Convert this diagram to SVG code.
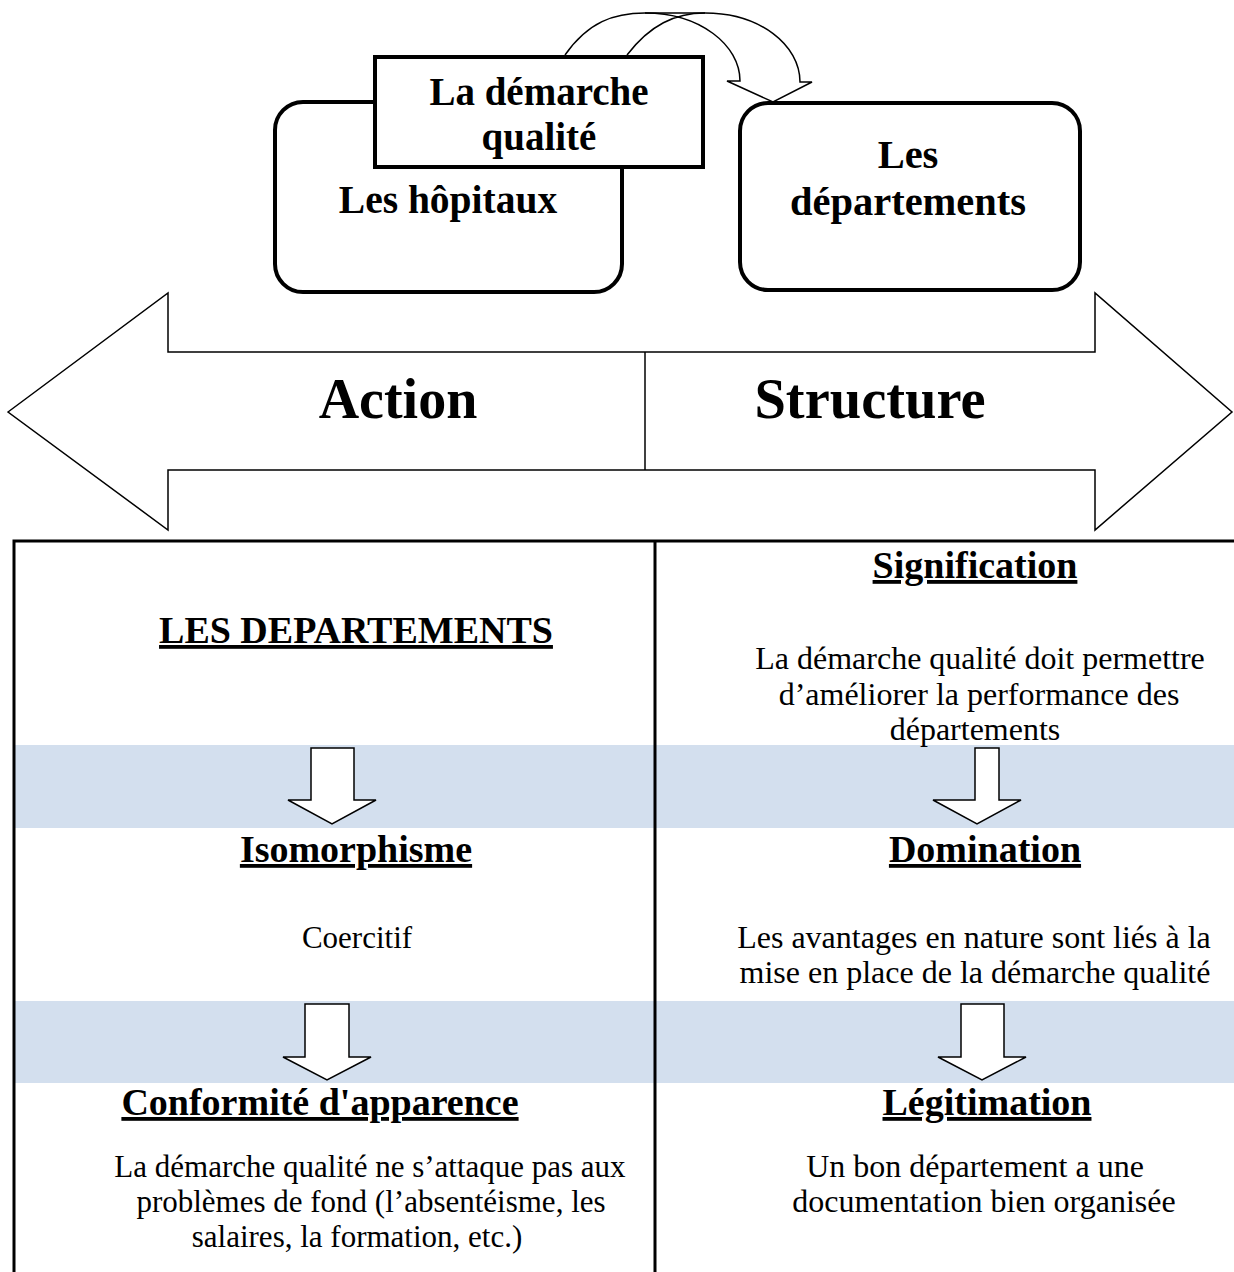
<svg xmlns="http://www.w3.org/2000/svg" width="1234" height="1272" viewBox="0 0 1234 1272">
<style>
.box{fill:#fff;stroke:#000;stroke-width:4}
.thin{fill:#fff;stroke:#000;stroke-width:1.5;stroke-linejoin:miter}
.hd{font-family:"Liberation Serif",serif;font-weight:bold;fill:#000;text-anchor:middle}
.tb{font-family:"Liberation Serif",serif;font-size:38px;font-weight:bold;fill:#000;text-anchor:middle;text-decoration:underline}
.tx{font-family:"Liberation Serif",serif;font-size:31px;fill:#000;text-anchor:middle}
.tr{font-family:"Liberation Serif",serif;font-size:32px;fill:#000;text-anchor:middle}
.band{fill:#D3DFEE}
.grid{stroke:#000;stroke-width:3;fill:none}
</style>
<rect width="1234" height="1272" fill="#fff"/>

<g id="connectors">
  <path class="thin" d="M565,55 C588,22 614,13 645,13 C700,13 740,45 740,81 L727,81 L773,102 L812,82 L800,82 C800,45 760,13 705,13 C675,13 650,25 627,55"/>
  <path class="thin" fill="none" d="M645,13 L705,13"/>
</g>

<g id="node-hopitaux">
  <rect class="box" x="275" y="102" width="347" height="190" rx="28"/>
  <text class="hd" x="448" y="213" font-size="39.5">Les hôpitaux</text>
</g>

<g id="node-demarche">
  <rect class="box" x="375" y="57" width="328" height="110"/>
  <text class="hd" x="539" y="105" font-size="39">La démarche</text>
  <text class="hd" x="539" y="150" font-size="39">qualité</text>
</g>

<g id="node-departements">
  <rect class="box" x="740" y="103" width="340" height="187" rx="28"/>
  <text class="hd" x="908" y="168" font-size="40.5">Les</text>
  <text class="hd" x="908" y="215" font-size="40.5">départements</text>
</g>

<g id="node-double-arrow">
  <path class="thin" d="M8,412 L168,293 L168,352 L1095,352 L1095,293 L1232,412 L1095,530 L1095,470 L168,470 L168,530 Z"/>
  <line x1="645" y1="352" x2="645" y2="470" stroke="#000" stroke-width="1.5"/>
  <text class="hd" x="398" y="418" font-size="56">Action</text>
  <text class="hd" x="870" y="418" font-size="56.5">Structure</text>
</g>

<g id="node-table">
  <rect class="band" x="14" y="745" width="1220" height="83"/>
  <rect class="band" x="14" y="1001" width="1220" height="82"/>
  <path class="grid" d="M14,1280 L14,541 L1240,541 M655,541 L655,1280"/>
</g>

<g id="node-left-column">
  <text class="tb" x="356" y="643">LES DEPARTEMENTS</text>
  <path class="thin" d="M311,748 L354,748 L354,800 L376,800 L332,824 L288,800 L311,800 Z"/>
  <text class="tb" x="356" y="862">Isomorphisme</text>
  <text class="tx" x="357" y="948">Coercitif</text>
  <path class="thin" d="M305,1004 L349,1004 L349,1057 L371,1057 L327,1080 L283,1057 L305,1057 Z"/>
  <text class="tb" x="320" y="1115">Conformité d'apparence</text>
  <text class="tx" x="370" y="1177">La démarche qualité ne s’attaque pas aux</text>
  <text class="tx" x="371" y="1212">problèmes de fond (l’absentéisme, les</text>
  <text class="tx" x="357" y="1247">salaires, la formation, etc.)</text>
</g>

<g id="node-right-column">
  <text class="tb" x="975" y="578">Signification</text>
  <text class="tr" x="980" y="669">La démarche qualité doit permettre</text>
  <text class="tr" x="979" y="705">d’améliorer la performance des</text>
  <text class="tr" x="975" y="740">départements</text>
  <path class="thin" d="M975,748 L999,748 L999,800 L1021,800 L977,824 L933,800 L975,800 Z"/>
  <text class="tb" x="985" y="862">Domination</text>
  <text class="tr" x="974" y="948">Les avantages en nature sont liés à la</text>
  <text class="tr" x="975" y="983">mise en place de la démarche qualité</text>
  <path class="thin" d="M961,1004 L1004,1004 L1004,1057 L1026,1057 L982,1080 L938,1057 L961,1057 Z"/>
  <text class="tb" x="987" y="1115">Légitimation</text>
  <text class="tr" x="975" y="1177">Un bon département a une</text>
  <text class="tr" x="984" y="1212">documentation bien organisée</text>
</g>
</svg>
